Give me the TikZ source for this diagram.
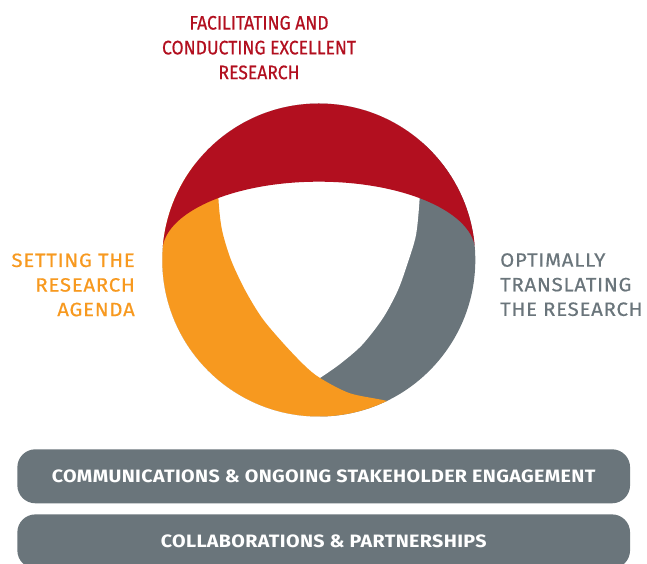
\documentclass[tikz,border=0pt]{standalone}
\usepackage{fontspec}
\setmainfont{Fira Sans}
\newfontfamily\headfont{Fira Sans}[FakeStretch=0.9, FakeBold=0.6]
\newfontfamily\sidefont{Fira Sans}[FakeStretch=1.06, FakeBold=0.6, LetterSpace=4]
\newfontfamily\barfont{Fira Sans}[FakeStretch=1.1, LetterSpace=2]
\usetikzlibrary{positioning}
\definecolor{resred}{HTML}{B20F1F}
\definecolor{resorange}{HTML}{F7991F}
\definecolor{resgrey}{HTML}{6A757B}
\tikzset{
  headtext/.style={font=\headfont\fontsize{19.5}{24.8}\selectfont, inner sep=0pt, align=center},
  sidetext/.style={font=\sidefont\fontsize{19.2}{24.6}\selectfont, inner sep=0pt},
  band/.style={fill=resgrey, rounded corners=18pt, minimum width=612.7pt, minimum height=54pt,
    text=white, font=\barfont\bfseries\fontsize{17.9}{20}\selectfont, inner sep=0pt}
}
\begin{document}
\begin{tikzpicture}[x=1pt, y=1pt]
  \useasboundingbox (0,0) rectangle (647,564);
  % the three bands of the ring
  \begin{scope}
    \clip (318.8,304) circle[radius=156.5];
    \fill[resgrey] (150,140) rectangle (480,470);
    \fill[white] plot[smooth] coordinates {(320,186) (340,200) (362,219) (383,246) (398,274)
      (408,302) (416,329) (419.5,363.5) (421,400)}
      -- (421,470) -- (150,470) -- (150,140) -- (320,140) -- cycle;
    \fill[resorange] plot[smooth] coordinates {(420,150) (390,162.3) (350,170.7) (320,186)
      (304,199) (283,221) (262,246) (245,274) (231,304) (222,334) (218.5,364) (218,400)}
      -- (150,400) -- (150,140) -- (420,140) -- cycle;
    \fill[resred] (162.3,312.3) arc[start angle=180, end angle=0, x radius=156.5, y radius=70]
      -- (475.3,470) -- (162.3,470) -- cycle;
  \end{scope}
  \node[headtext, text=resred, anchor=north] (excel) at (259,548.3)
    {FACILITATING AND\\CONDUCTING EXCELLENT\\RESEARCH};
  \node[sidetext, text=resorange, anchor=north east, align=right] (agenda) at (135,310.7)
    {SETTING THE\\RESEARCH\\AGENDA};
  \node[sidetext, text=resgrey, anchor=north west, align=left] (transl) at (500,311)
    {OPTIMALLY\\TRANSLATING\\THE RESEARCH};
  % bars underneath
  \node[band] (comms) at (323.7,87.7) {COMMUNICATIONS \& ONGOING STAKEHOLDER ENGAGEMENT};
  \node[band, below=10.7pt of comms] (collab) {COLLABORATIONS \& PARTNERSHIPS};
\end{tikzpicture}
\end{document}
